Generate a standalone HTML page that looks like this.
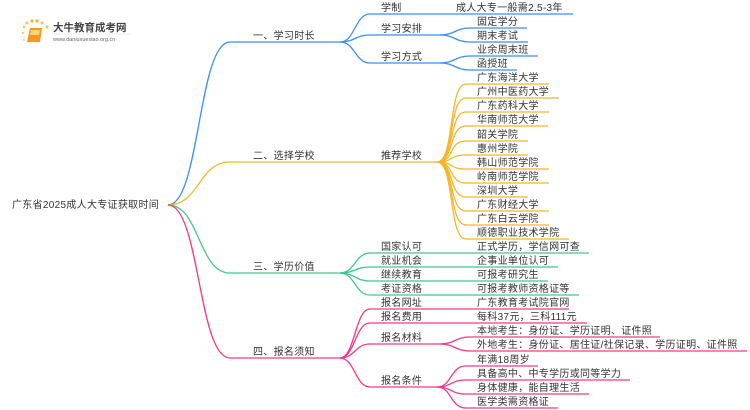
<!DOCTYPE html>
<html><head><meta charset="utf-8"><style>
html,body{margin:0;padding:0;background:#fff;}
svg{display:block;}
text{font-family:"Liberation Sans","Noto Sans CJK SC",sans-serif;font-size:10px;fill:#333;letter-spacing:0.3px;}
</style></head><body>
<svg width="750" height="410" viewBox="0 0 750 410" xmlns="http://www.w3.org/2000/svg">
<g>
<circle cx="24" cy="27" r="1.3" fill="#f7c04a"/><circle cx="27" cy="23" r="1.5" fill="#f7c04a"/><circle cx="32" cy="21" r="1.6" fill="#f7b030"/><circle cx="37" cy="21" r="1.6" fill="#f7b030"/><circle cx="42" cy="23" r="1.5" fill="#f7c04a"/><circle cx="47" cy="27" r="1.5" fill="#f7c04a"/><circle cx="23" cy="33" r="1" fill="#f7c04a"/><circle cx="24" cy="40" r="0.9" fill="#f7c04a"/>
<path d="M30 28 L42 28 L40 42 L27 42 Z" fill="#f39a1e"/><path d="M31 30 L40 30 L39 35 L30 35 Z" fill="#fbd27a"/>
<text x="53" y="31" style="font-size:10.5px;font-weight:bold;fill:#444;letter-spacing:0">大牛教育成考网</text>
<text x="53" y="41" style="font-size:5.5px;fill:#666;letter-spacing:0">www.daniuxuexiao.org.cn</text>
<line x1="52" y1="34" x2="130" y2="34" stroke="#ddd" stroke-width="0.5"/>
</g>
<text x="12" y="208">广东省2025成人大专证获取时间</text>
<g fill="none" stroke-width="1.3">
<g stroke="#3b8ff5">
<path d="M168 205 C200 205,198 42,230 42 L340 42"/>
<path d="M340 42 C355 42,355 14,370 14 L573 14"/>
<path d="M340 42 C355 42,355 35,370 35 L440 35"/>
<path d="M340 42 C355 42,355 63,370 63 L440 63"/>
<path d="M440 35 C455 35,455 28,470 28 L527 28"/>
<path d="M440 35 C455 35,455 42,470 42 L528 42"/>
<path d="M440 63 C455 63,455 56,470 56 L538 56"/>
<path d="M440 63 C455 63,455 70,470 70 L517 70"/>
</g>
<g stroke="#f7b52c">
<path d="M168 205 C200 205,198 162,230 162 L437 162"/>
<path d="M437 162 C455 162,448 84,466 84 L549 84"/>
<path d="M437 162 C455 162,448 98,466 98 L559 98"/>
<path d="M437 162 C455 162,448 112,466 112 L549 112"/>
<path d="M437 162 C455 162,448 126,466 126 L548 126"/>
<path d="M437 162 C455 162,448 141,466 141 L528 141"/>
<path d="M437 162 C455 162,448 155,466 155 L528 155"/>
<path d="M437 162 C455 162,448 169,466 169 L549 169"/>
<path d="M437 162 C455 162,448 183,466 183 L549 183"/>
<path d="M437 162 C455 162,448 197,466 197 L528 197"/>
<path d="M437 162 C455 162,448 211,466 211 L549 211"/>
<path d="M437 162 C455 162,448 225,466 225 L549 225"/>
<path d="M437 162 C455 162,448 239,466 239 L569 239"/>
</g>
<g stroke="#3ec98a">
<path d="M168 205 C200 205,198 273,230 273 L340 273"/>
<path d="M340 273 C355 273,355 253,370 253 L589 253"/>
<path d="M340 273 C355 273,355 267,370 267 L558 267"/>
<path d="M340 273 C355 273,355 281,370 281 L548 281"/>
<path d="M340 273 C355 273,355 295,370 295 L579 295"/>
</g>
<g stroke="#f23a84">
<path d="M168 205 C200 205,198 358,230 358 L340 358"/>
<path d="M340 358 C355 358,355 309,370 309 L569 309"/>
<path d="M340 358 C355 358,355 323,370 323 L587 323"/>
<path d="M340 358 C355 358,355 344,370 344 L440 344"/>
<path d="M340 358 C355 358,355 387,370 387 L437 387"/>
<path d="M440 344 C455 344,455 337,470 337 L660 337"/>
<path d="M440 344 C455 344,455 351,470 351 L747 351"/>
<path d="M437 387 C452 387,450 366,466 366 L538 366"/>
<path d="M437 387 C452 387,450 380,466 380 L630 380"/>
<path d="M437 387 C452 387,450 394,466 394 L589 394"/>
<path d="M437 387 C452 387,450 408,466 408 L558 408"/>
</g>
</g>
<text x="253" y="39">一、学习时长</text>
<text x="253" y="159">二、选择学校</text>
<text x="253" y="270">三、学历价值</text>
<text x="253" y="355">四、报名须知</text>
<text x="381" y="11">学制</text><text x="456" y="11">成人大专一般需2.5-3年</text>
<text x="381" y="32">学习安排</text><text x="477" y="25">固定学分</text><text x="477" y="39">期末考试</text>
<text x="381" y="60">学习方式</text><text x="477" y="53">业余周末班</text><text x="477" y="67">函授班</text>
<text x="381" y="159">推荐学校</text>
<text x="477" y="81">广东海洋大学</text><text x="477" y="95">广州中医药大学</text><text x="477" y="109">广东药科大学</text><text x="477" y="123">华南师范大学</text><text x="477" y="138">韶关学院</text><text x="477" y="152">惠州学院</text><text x="477" y="166">韩山师范学院</text><text x="477" y="180">岭南师范学院</text><text x="477" y="194">深圳大学</text><text x="477" y="208">广东财经大学</text><text x="477" y="222">广东白云学院</text><text x="477" y="236">顺德职业技术学院</text>
<text x="381" y="250">国家认可</text><text x="477" y="250">正式学历，学信网可查</text>
<text x="381" y="264">就业机会</text><text x="477" y="264">企事业单位认可</text>
<text x="381" y="278">继续教育</text><text x="477" y="278">可报考研究生</text>
<text x="381" y="292">考证资格</text><text x="477" y="292">可报考教师资格证等</text>
<text x="381" y="306">报名网址</text><text x="477" y="306">广东教育考试院官网</text>
<text x="381" y="320">报名费用</text><text x="477" y="320">每科37元，三科111元</text>
<text x="381" y="341">报名材料</text><text x="477" y="334">本地考生：身份证、学历证明、证件照</text><text x="477" y="348">外地考生：身份证、居住证/社保记录、学历证明、证件照</text>
<text x="381" y="384">报名条件</text><text x="477" y="363">年满18周岁</text><text x="477" y="377">具备高中、中专学历或同等学力</text><text x="477" y="391">身体健康，能自理生活</text><text x="477" y="405">医学类需资格证</text>
</svg>
</body></html>
